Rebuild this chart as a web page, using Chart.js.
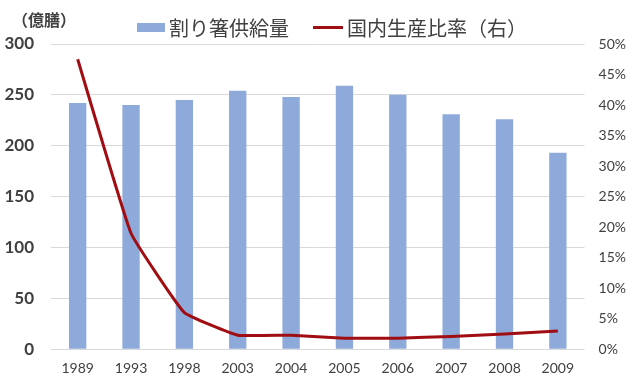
<!DOCTYPE html>
<html>
<head>
<meta charset="utf-8">
<script src="https://cdn.jsdelivr.net/npm/chart.js@4"></script>
<style>
  html, body { margin: 0; padding: 0; background: #fff; }
  #wrap { position: relative; width: 640px; height: 382px; }
  #unit { position: absolute; left: 12px; top: 7px; font: bold 16px "Noto Sans CJK JP"; color: #404040; }
  #legend { position: absolute; left: 137px; top: 13px; display: flex; align-items: center;
            font: 20px "Noto Sans CJK JP"; color: #404040; white-space: nowrap; }
  #legend .item { display: flex; align-items: center; margin-right: 24px; }
  #legend .mark { margin-right: 4px; }
</style>
</head>
<body>
<div id="wrap">
  <canvas id="chart" width="640" height="382"></canvas>
  <div id="unit">（億膳）</div>
  <div id="legend"></div>
</div>
<script>
const years = ["1989", "1993", "1998", "2003", "2004", "2005", "2006", "2007", "2008", "2009"];
const supply = [242, 240, 245, 254, 248, 259, 250, 231, 226, 193];
const domesticRatio = [0.475, 0.19, 0.06, 0.023, 0.023, 0.018, 0.018, 0.021, 0.025, 0.03];

document.addEventListener("DOMContentLoaded", () => {
    const ctx = document.getElementById("chart").getContext("2d");

    const chart = new Chart(ctx, {
        type: "bar",
        data: {
            labels: years,
            datasets: [
                {
                    label: "割り箸供給量",
                    data: supply,
                    backgroundColor: "#8eaadb",
                    barPercentage: 0.65,
                    categoryPercentage: 0.5,
                    yAxisID: "y",
                    order: 2
                },
                {
                    type: "line",
                    label: "国内生産比率（右）",
                    data: domesticRatio,
                    borderColor: "#a00d12",
                    backgroundColor: "#a00d12",
                    borderWidth: 3,
                    pointRadius: 0,
                    tension: 0.1,
                    yAxisID: "y1",
                    order: 1
                }
            ]
        },
        options: {
            responsive: false,
            animation: false,
            layout: { padding: { left: 0, right: 8, top: 44, bottom: 2 } },
            plugins: {
                legend: { display: false },
                tooltip: { enabled: false }
            },
            scales: {
                x: {
                    grid: { display: false },
                    border: { display: false },
                    ticks: { color: "#404040", font: { family: "Lato", size: 14 } }
                },
                y: {
                    position: "left",
                    min: 0,
                    max: 300,
                    afterFit: s => { s.width = 51; },
                    ticks: { stepSize: 50, color: "#404040", font: { family: "Lato", size: 17, weight: "bold" }, padding: 17 },
                    grid: { color: "#d9d9d9", drawTicks: false },
                    border: { display: false }
                },
                y1: {
                    position: "right",
                    min: 0,
                    max: 0.5,
                    ticks: {
                        stepSize: 0.05,
                        color: "#404040",
                        font: { family: "Lato", size: 14 },
                        padding: 6,
                        callback: v => Math.round(v * 100) + "%"
                    },
                    grid: { display: false },
                    border: { display: false }
                }
            }
        }
    });

    // legend as html, built from the datasets
    const legendEl = document.getElementById("legend");
    chart.data.datasets.forEach(ds => {
        const item = document.createElement("span");
        item.className = "item";
        const mark = document.createElement("span");
        mark.className = "mark";
        if (ds.type === "line") {
            mark.style.cssText = `display:inline-block;width:30px;height:3px;background:${ds.borderColor}`;
        } else {
            mark.style.cssText = `display:inline-block;width:28px;height:9px;background:${ds.backgroundColor}`;
        }
        item.appendChild(mark);
        item.appendChild(document.createTextNode(ds.label));
        legendEl.appendChild(item);
    });
});
</script>
</body>
</html>
